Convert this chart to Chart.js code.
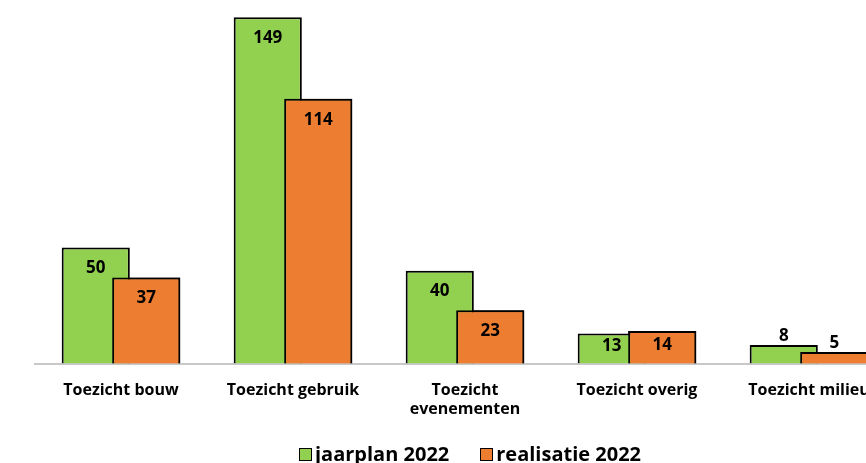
<!DOCTYPE html>
<html>
<head>
<meta charset="utf-8">
<script src="https://cdn.jsdelivr.net/npm/chart.js@4"></script>
<style>
    html, body { margin: 0; padding: 0; background: #fff; overflow: hidden; }
    #chart-container { position: relative; width: 930px; height: 463px; }
    #legend {
        position: absolute; left: 299px; top: 444px;
        font: bold 20px 'Open Sans', sans-serif; line-height: 20px;
        white-space: nowrap; color: #000;
    }
    #legend .item { display: inline-block; }
    #legend .item + .item { margin-left: 31px; }
    #legend .box { display: inline-block; width: 11px; height: 11px; border: 1px solid #000; margin-right: 3px; vertical-align: baseline; }
</style>
</head>
<body>
<div id="chart-container">
    <canvas id="barChart"></canvas>
    <div id="legend"></div>
</div>
<script>
const categories = ["Toezicht bouw", "Toezicht gebruik", ["Toezicht", "evenementen"], "Toezicht overig", "Toezicht milieu"];
const jaarplan = [50, 149, 40, 13, 8];
const realisatie = [37, 114, 23, 14, 5];
const seriesNames = ["jaarplan 2022", "realisatie 2022"];
const seriesColors = ["#92D050", "#ED7D31"];

const fontFamily = "'Open Sans', sans-serif";

// orange bars overlap the green ones, so draw the second set once more on top
const overlapOnTop = {
    id: "overlapOnTop",
    afterDatasetsDraw(chart) {
        chart.getDatasetMeta(1).controller.draw();
    }
};

// value labels: just under the bar top, or above the bar when it is short
const valueLabels = {
    id: "valueLabels",
    afterDatasetsDraw(chart) {
        let ctx = chart.ctx;
        ctx.save();
        ctx.font = "bold 17px " + fontFamily;
        ctx.fillStyle = "#000";
        ctx.textAlign = "center";
        ctx.textBaseline = "middle";
        chart.data.datasets.forEach((ds, i) => {
            chart.getDatasetMeta(i).data.forEach((bar, j) => {
                let h = bar.base - bar.y;
                let y = h > 24 ? bar.y + Math.min(21, h / 2 - 2) : bar.y - 9;
                ctx.fillText(ds.data[j], bar.x, y);
            });
        });
        ctx.restore();
    }
};

let ctx = document.getElementById("barChart").getContext("2d");
let chart = new Chart(ctx, {
    type: "bar",
    data: {
        labels: categories,
        datasets: [
            { label: seriesNames[0], data: jaarplan, backgroundColor: seriesColors[0], borderColor: "#000", borderWidth: 2, borderSkipped: "bottom" },
            { label: seriesNames[1], data: realisatie, backgroundColor: seriesColors[1], borderColor: "#000", borderWidth: 2, borderSkipped: "bottom" }
        ]
    },
    options: {
        responsive: true,
        maintainAspectRatio: false,
        animation: false,
        categoryPercentage: 0.587,
        barPercentage: 1.35,
        layout: { padding: { top: 15, left: 35, right: 35, bottom: 35 } },
        scales: {
            x: {
                grid: { display: false },
                border: { display: true, color: "#c8c8c8", width: 2 },
                ticks: { color: "#000", padding: 9, font: { family: fontFamily, size: 16, weight: "bold" }, maxRotation: 0, autoSkip: false }
            },
            y: { display: false, min: 0, max: 150 }
        },
        plugins: {
            tooltip: { enabled: false },
            legend: { display: false }
        }
    },
    plugins: [overlapOnTop, valueLabels]
});

// simple html legend built from the datasets
let legendEl = document.getElementById("legend");
chart.data.datasets.forEach(ds => {
    let item = document.createElement("span");
    item.className = "item";
    let box = document.createElement("span");
    box.className = "box";
    box.style.background = ds.backgroundColor;
    item.appendChild(box);
    item.appendChild(document.createTextNode(ds.label));
    legendEl.appendChild(item);
});
</script>
</body>
</html>
